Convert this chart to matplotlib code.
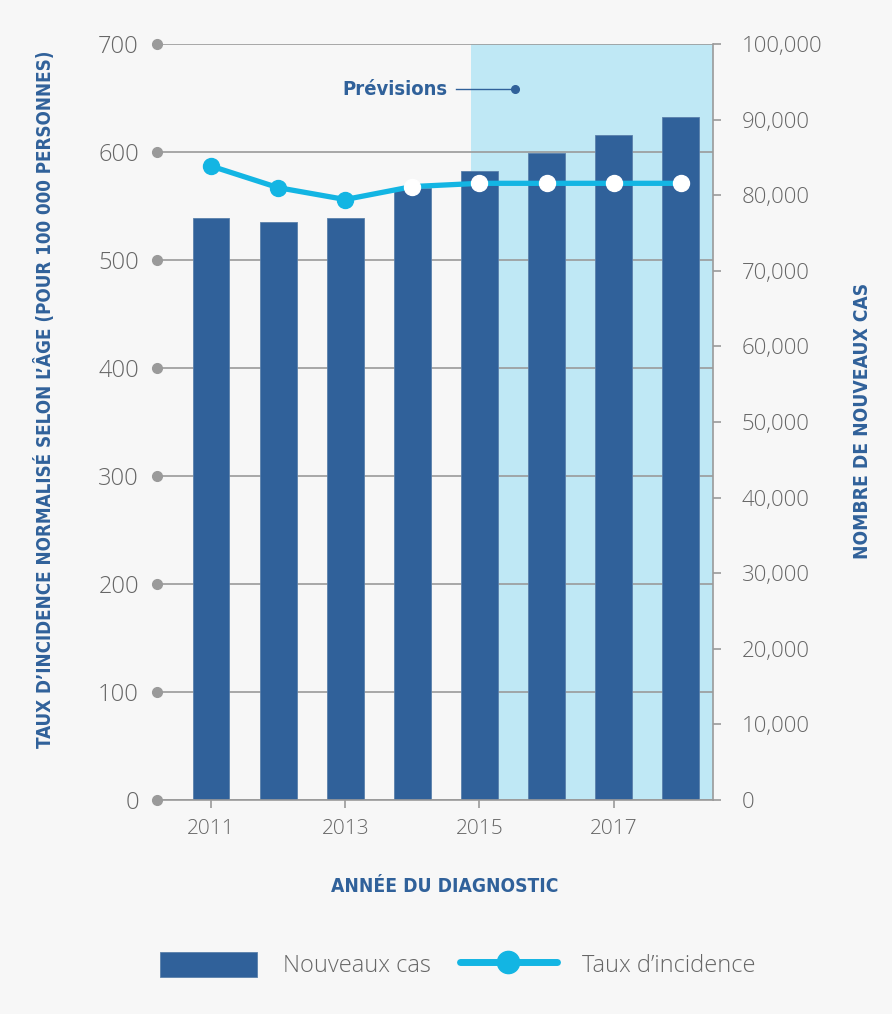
import matplotlib
matplotlib.use("Agg")
import matplotlib.pyplot as plt
from matplotlib.lines import Line2D
from matplotlib.patches import Patch

# Data
years = [2011, 2012, 2013, 2014, 2015, 2016, 2017, 2018]
new_cases = [77000, 76500, 77000, 81000, 83200, 85600, 88000, 90400]
incidence = [587, 567, 556, 568, 571, 571, 571, 571]
forecast_start = 2014.87
left_ticks = [0, 100, 200, 300, 400, 500, 600, 700]
right_ticks = [0, 10000, 20000, 30000, 40000, 50000, 60000, 70000, 80000, 90000, 100000]
xtick_years = [2011, 2013, 2015, 2017]

BG = "#f7f7f7"
BAR = "#30619a"
CYAN = "#13b5e3"
SHADE = "#bfe8f5"
GRID = "#9a9a9a"
TXT = "#666666"
TITLE = "#30619a"

light = ["Open Sans", "DejaVu Sans"]
narrow = ["DejaVu Sans"]

fig = plt.figure(figsize=(8.92, 10.14), dpi=100, facecolor=BG)
ax = fig.add_axes([157 / 892, 1 - 800 / 1014, (713 - 157) / 892, (800 - 44) / 1014])
ax.set_facecolor(BG)
ax2 = ax.twinx()

x0, x1 = 2010.195, 2018.48
ax.set_xlim(x0, x1)
ax.set_ylim(0, 700)
ax2.set_ylim(0, 100000)

# forecast shading
ax.axvspan(forecast_start, x1, color=SHADE, zorder=0, lw=0)

# gridlines
for v in left_ticks:
    ax.axhline(v, color=GRID, lw=1.2, zorder=1)

# bars on right axis
ax2.bar(years, new_cases, width=0.55, color=BAR, edgecolor="#5a80ab", lw=0.6, zorder=2)

# incidence line on top
ax3 = ax.twinx()
ax3.set_ylim(0, 700)
ax3.axis("off")
ax3.plot(years, incidence, color=CYAN, lw=3.8, zorder=3, solid_capstyle="round")
ax3.plot(years[:3], incidence[:3], "o", color=CYAN, ms=11.5, zorder=4)
ax3.plot(years[3:], incidence[3:], "o", color="white", ms=11.5, zorder=4)

# left axis dots
ax.plot([x0] * len(left_ticks), left_ticks, "o", color=GRID, ms=7, clip_on=False, zorder=5)

for a in (ax, ax2):
    for s in a.spines.values():
        s.set_visible(False)
ax2.spines["right"].set_visible(True)
ax2.spines["right"].set_color(GRID)
ax2.spines["right"].set_linewidth(1.2)
ax2.spines["bottom"].set_visible(True)
ax2.spines["bottom"].set_color(GRID)
ax2.spines["bottom"].set_linewidth(1.2)

ax.set_yticks(left_ticks)
ax.set_yticklabels([str(v) for v in left_ticks], family=light, fontweight="light",
                   fontsize=17, color=TXT)
ax.tick_params(axis="y", length=0, pad=13)

ax2.set_yticks(right_ticks)
ax2.set_yticklabels([f"{v:,}" for v in right_ticks], family=light, fontweight="light",
                    fontsize=16, color=TXT)
ax2.tick_params(axis="y", length=5.5, width=1.2, color=GRID, pad=15)

ax.set_xticks(xtick_years)
ax.set_xticklabels([str(y) for y in xtick_years], family=light, fontweight="light",
                   fontsize=15, color=TXT)
ax.tick_params(axis="x", length=5.5, width=1.2, color=GRID, pad=8)

# Prévisions annotation
ax.text(2014.53, 658, "Prévisions", family=narrow, fontweight="bold", fontsize=14.5,
        fontstretch="condensed", color=TITLE, ha="right", va="center", zorder=6)
ax.plot([2014.65, 2015.53], [658, 658], color=TITLE, lw=1, zorder=6)
ax.plot([2015.53], [658], "o", color=TITLE, ms=5.5, zorder=6)

# axis titles
fig.text(45 / 892, 1 - 399 / 1014,
         "TAUX D\u2019INCIDENCE NORMALISÉ SELON L\u2019ÂGE (POUR 100 000 PERSONNES)",
         rotation=90, ha="center", va="center", family=narrow, fontweight="bold",
         fontstretch="condensed", fontsize=13.5, color=TITLE)
fig.text(862 / 892, 1 - 421 / 1014, "NOMBRE DE NOUVEAUX CAS", rotation=90,
         ha="center", va="center", family=narrow, fontweight="bold",
         fontstretch="condensed", fontsize=13.8, color=TITLE)
fig.text(445 / 892, 1 - 886 / 1014, "ANNÉE DU DIAGNOSTIC", ha="center", va="center",
         family=narrow, fontweight="bold", fontstretch="condensed", fontsize=13.8,
         color=TITLE)

# legend
handles = [Patch(facecolor=BAR, edgecolor="#5a80ab", lw=0.6),
           Line2D([0], [0], color=CYAN, lw=5, marker="o", ms=16, solid_capstyle="round")]
leg = fig.legend(handles, ["Nouveaux cas", "Taux d\u2019incidence"], loc="center",
                 bbox_to_anchor=(458 / 892, 1 - 965 / 1014), ncol=2, frameon=False,
                 handlelength=4.1, handleheight=1.3, handletextpad=1.1, columnspacing=1.23,
                 prop={"family": light, "weight": "light", "size": 17})
for t in leg.get_texts():
    t.set_color(TXT)

fig.savefig("out.png", dpi=100, facecolor=BG)
